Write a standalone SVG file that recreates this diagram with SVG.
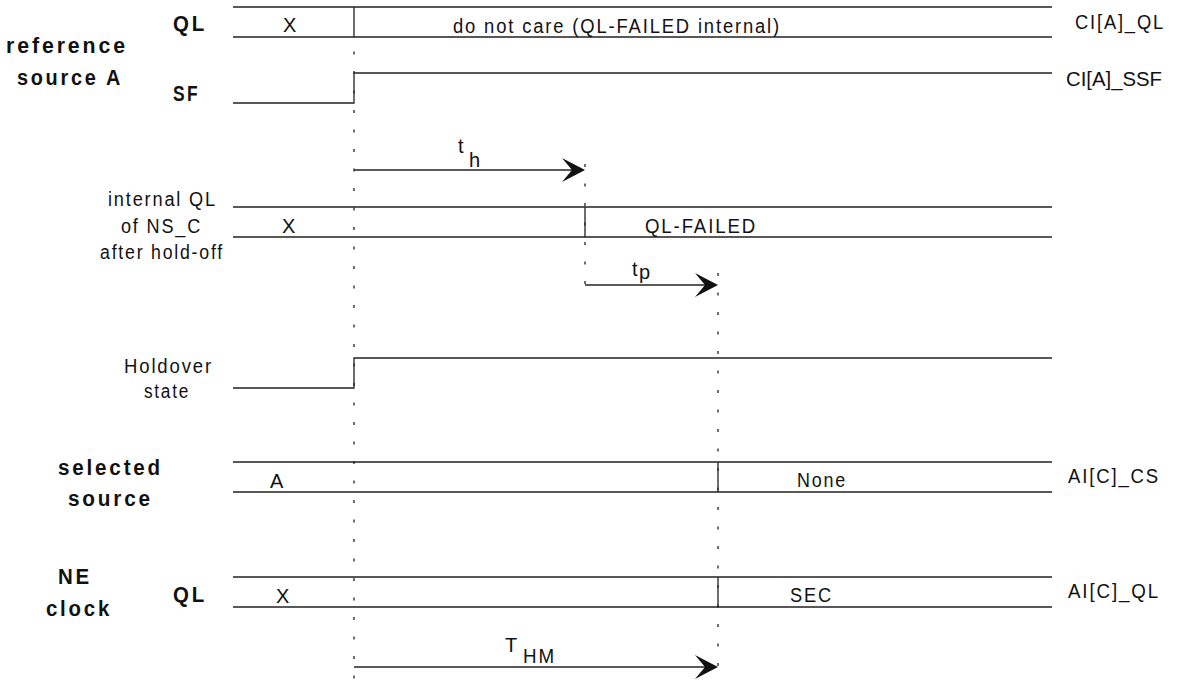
<svg xmlns="http://www.w3.org/2000/svg" width="1177" height="681" viewBox="0 0 1177 681">
<style>
.ln{stroke:#222;stroke-width:1.3;fill:none}
.dash{stroke:#222;stroke-width:1.3;fill:none;stroke-dasharray:3 16.5}
.t{font-family:"Liberation Sans",Arial,sans-serif;font-size:20px;letter-spacing:2px;fill:#111}
.s{font-family:"Liberation Sans",Arial,sans-serif;font-size:20px;fill:#111}
.b{font-family:"Liberation Sans",Arial,sans-serif;font-size:22px;font-weight:bold;letter-spacing:3px;fill:#111}
.ah{fill:#111;stroke:none}
</style>
<rect width="1177" height="681" fill="#fff"/>

<g id="refA-labels">
<text class="b" x="173" y="31" textLength="34" lengthAdjust="spacingAndGlyphs">QL</text>
<text class="b" x="6" y="53" textLength="122" lengthAdjust="spacingAndGlyphs">reference</text>
<text class="b" x="17" y="85" textLength="106" lengthAdjust="spacingAndGlyphs">source A</text>
<text class="b" x="173" y="101" textLength="27" lengthAdjust="spacingAndGlyphs">SF</text>
</g>

<g id="refA-QL">
<path class="ln" d="M233,7H1052M233,37H1052M354,7V37"/>
<text class="s" x="283" y="32">X</text>
<text class="t" x="453" y="33" textLength="328" lengthAdjust="spacingAndGlyphs">do not care (QL-FAILED internal)</text>
<text class="t" x="1075" y="29" textLength="90" lengthAdjust="spacingAndGlyphs">CI[A]_QL</text>
</g>

<g id="refA-SF">
<path class="ln" d="M233,103H354V73H1052"/>
<text class="s" x="1066" y="86" textLength="96" lengthAdjust="spacingAndGlyphs">CI[A]_SSF</text>
</g>

<g id="internalQL">
<text class="t" x="108" y="206" textLength="109" lengthAdjust="spacingAndGlyphs">internal QL</text>
<text class="t" x="121" y="233" textLength="81" lengthAdjust="spacingAndGlyphs">of NS_C</text>
<text class="t" x="100" y="259" textLength="124" lengthAdjust="spacingAndGlyphs">after hold-off</text>
<path class="ln" d="M233,207H1052M233,237H1052M585,207V237"/>
<text class="s" x="282" y="233">X</text>
<text class="t" x="645" y="233" textLength="112" lengthAdjust="spacingAndGlyphs">QL-FAILED</text>
</g>

<g id="holdover">
<text class="t" x="124" y="373" textLength="89" lengthAdjust="spacingAndGlyphs">Holdover</text>
<text class="t" x="144" y="398" textLength="46" lengthAdjust="spacingAndGlyphs">state</text>
<path class="ln" d="M233,388H354V358H1052"/>
</g>

<g id="selected">
<text class="b" x="58" y="475" textLength="105" lengthAdjust="spacingAndGlyphs">selected</text>
<text class="b" x="68" y="506" textLength="85" lengthAdjust="spacingAndGlyphs">source</text>
<path class="ln" d="M233,462H1052M233,492H1052M718,462V492"/>
<text class="s" x="270" y="488">A</text>
<text class="t" x="797" y="487" textLength="50" lengthAdjust="spacingAndGlyphs">None</text>
<text class="t" x="1068" y="483" textLength="92" lengthAdjust="spacingAndGlyphs">AI[C]_CS</text>
</g>

<g id="neclock">
<text class="b" x="58" y="584" textLength="34" lengthAdjust="spacingAndGlyphs">NE</text>
<text class="b" x="46" y="616" textLength="66" lengthAdjust="spacingAndGlyphs">clock</text>
<text class="b" x="173" y="602" textLength="34" lengthAdjust="spacingAndGlyphs">QL</text>
<path class="ln" d="M233,577H1052M233,607H1052M718,577V607"/>
<text class="s" x="276" y="603">X</text>
<text class="t" x="790" y="602" textLength="43" lengthAdjust="spacingAndGlyphs">SEC</text>
<text class="t" x="1068" y="598" textLength="92" lengthAdjust="spacingAndGlyphs">AI[C]_QL</text>
</g>

<g id="connectors">
<path class="dash" d="M354,51.5V681"/>
<path class="dash" d="M585,164V290"/>
<path class="dash" d="M718,273V681"/>
<path class="ln" d="M354,170H575"/>
<path class="ah" d="M585,170L562,158L572,170L562,182Z"/>
<path class="ln" d="M585,285H708"/>
<path class="ah" d="M718,285L695,273L705,285L695,297Z"/>
<path class="ln" d="M354,667H708"/>
<path class="ah" d="M718,667L695,655L705,667L695,679Z"/>
<text class="s" x="458" y="153">t</text>
<text class="s" x="469" y="167">h</text>
<text class="s" x="632" y="276">t</text>
<text class="s" x="639" y="279">p</text>
<text class="s" x="505" y="652">T</text>
<text class="t" x="523" y="663" textLength="33" lengthAdjust="spacingAndGlyphs">HM</text>
</g>
</svg>
